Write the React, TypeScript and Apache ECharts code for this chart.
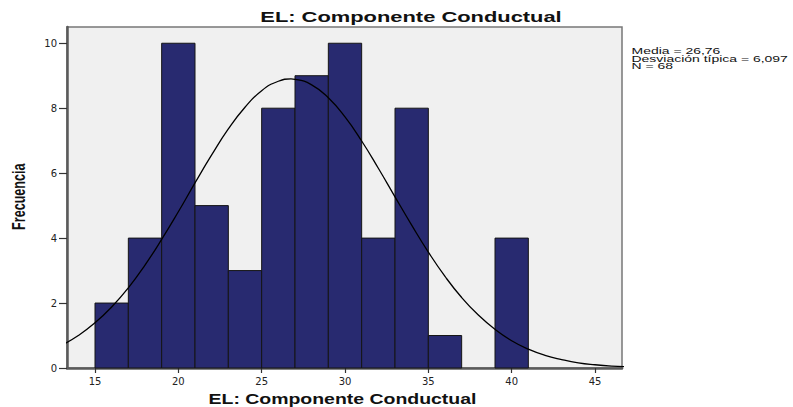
import React, { useEffect, useRef } from "react";
import * as echarts from "echarts";

const titleText = "EL: Componente Conductual";
const xAxisName = "EL: Componente Conductual";
const yAxisName = "Frecuencia";
const statsLines = ["Media = 26,76", "Desviación típica = 6,097", "N = 68"];

const binStarts = [15, 17, 19, 21, 23, 25, 27, 29, 31, 33, 35, 37, 39];
const binWidth = 2;
const counts = [2, 4, 10, 5, 3, 8, 9, 10, 4, 8, 1, 0, 4];

const curveX = [13, 14, 15, 16, 17, 18, 19, 20, 21, 22, 23, 24, 25, 26, 26.76, 27, 28, 29, 30, 31, 32, 33, 34, 35, 36, 37, 38, 39, 40, 41, 42, 43, 44, 45, 46, 47];
const curveY = [0.70, 1.00, 1.39, 1.88, 2.47, 3.17, 3.96, 4.81, 5.70, 6.56, 7.36, 8.03, 8.54, 8.83, 8.90, 8.89, 8.72, 8.32, 7.73, 6.99, 6.15, 5.27, 4.40, 3.57, 2.82, 2.17, 1.63, 1.19, 0.84, 0.58, 0.39, 0.26, 0.16, 0.10, 0.06, 0.04];

const xTicks = [15, 20, 25, 30, 35, 40, 45];
const yTicks = [0, 2, 4, 6, 8, 10];

export default function App() {
  const ref = useRef<HTMLDivElement>(null);
  useEffect(() => {
    if (!ref.current) return;
    const chart = echarts.init(ref.current, null, { renderer: "svg" });
    const barData = binStarts
      .map((s, i) => [s, s + binWidth, counts[i]])
      .filter((d) => d[2] > 0);
    const lineData = curveX.map((x, i) => [x, curveY[i]]);
    const tickFont = "'DejaVu Sans', 'Liberation Sans', sans-serif";
    const statsGraphics = statsLines.map((line, i) => ({
      type: "text",
      x: 631.5,
      y: 51 + i * 7.4,
      scaleX: 1.47,
      style: {
        text: line,
        font: "9.5px 'Liberation Sans', Arial, sans-serif",
        fill: "#111",
        align: "left",
        verticalAlign: "middle",
      },
    }));
    chart.setOption({
      animation: false,
      backgroundColor: "#ffffff",
      grid: {
        left: 67,
        right: 171,
        top: 27,
        bottom: 39,
        show: true,
        backgroundColor: "#f0f0f0",
        borderColor: "#777",
        borderWidth: 1.5,
      },
      xAxis: {
        type: "value",
        min: 13.32,
        max: 46.62,
        axisLine: { show: true, lineStyle: { color: "#5a5a5a", width: 2.5 } },
        axisTick: { show: true, customValues: xTicks, length: 5, lineStyle: { color: "#333", width: 1.2 } },
        axisLabel: { customValues: xTicks, fontFamily: tickFont, fontSize: 10, color: "#222", margin: 8 },
        splitLine: { show: false },
      },
      yAxis: {
        type: "value",
        min: 0,
        max: 10.5,
        axisLine: { show: true, lineStyle: { color: "#5a5a5a", width: 2.5 } },
        axisTick: { show: true, customValues: yTicks, length: 8, lineStyle: { color: "#333", width: 1.2 } },
        axisLabel: { customValues: yTicks, fontFamily: tickFont, fontSize: 10, color: "#222", margin: 10 },
        splitLine: { show: false },
      },
      graphic: [
        {
          type: "text",
          x: 411,
          y: 16.5,
          scaleX: 1.46,
          style: {
            text: titleText,
            font: "bold 15px 'Liberation Sans', Arial, sans-serif",
            fill: "#111",
            align: "center",
            verticalAlign: "middle",
          },
        },
        {
          type: "text",
          x: 342.5,
          y: 399.7,
          scaleX: 1.39,
          style: {
            text: xAxisName,
            font: "bold 14px 'Liberation Sans', Arial, sans-serif",
            fill: "#111",
            align: "center",
            verticalAlign: "middle",
          },
        },
        {
          type: "text",
          x: 18.7,
          y: 196.7,
          rotation: Math.PI / 2,
          scaleY: 1.4,
          style: {
            text: yAxisName,
            font: "bold 12.6px 'Liberation Sans', Arial, sans-serif",
            fill: "#111",
            align: "center",
            verticalAlign: "middle",
          },
        },
        ...statsGraphics,
      ],
      series: [
        {
          type: "custom",
          data: barData,
          encode: { x: [0, 1], y: 2 },
          renderItem: (params: any, api: any) => {
            const p0 = api.coord([api.value(0), api.value(2)]);
            const p1 = api.coord([api.value(1), 0]);
            return {
              type: "rect",
              shape: { x: p0[0], y: p0[1], width: p1[0] - p0[0], height: p1[1] - p0[1] },
              style: { fill: "#282a70", stroke: "#151515", lineWidth: 1 },
            };
          },
          z: 2,
        },
        {
          type: "line",
          data: lineData,
          smooth: true,
          showSymbol: false,
          symbol: "none",
          clip: true,
          lineStyle: { color: "#000", width: 1.3 },
          z: 3,
        },
      ],
    });
    return () => chart.dispose();
  }, []);
  return <div ref={ref} style={{ position: "fixed", left: 0, top: 0, width: 793, height: 407 }} />;
}
